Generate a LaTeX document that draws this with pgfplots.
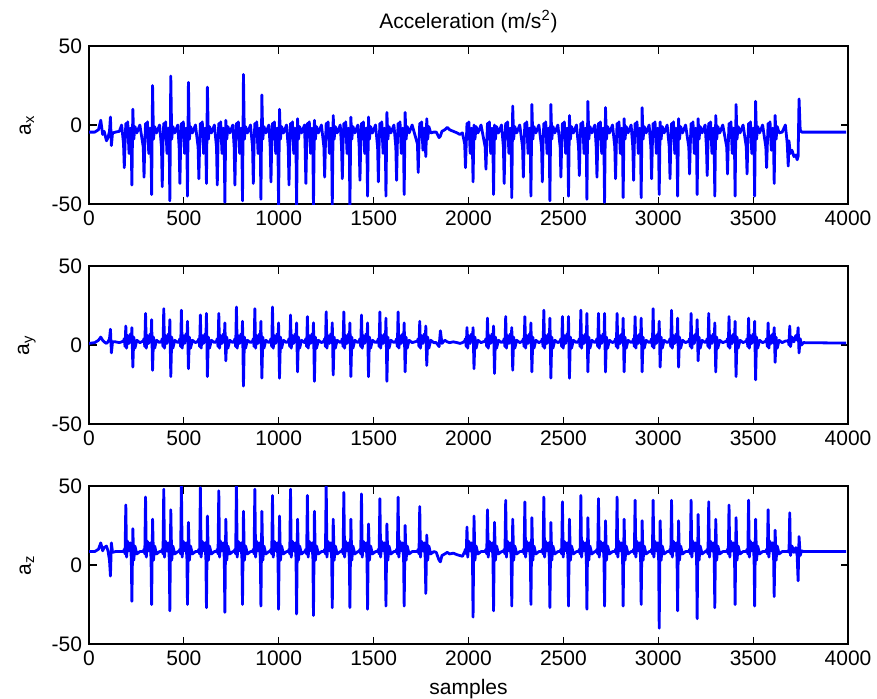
\documentclass[border=0pt]{standalone}
\usepackage{pgfplots}
\usepackage{pgfplotstable}
\pgfplotsset{compat=1.18}
\usepackage{fontspec}
\setmainfont{Liberation Sans}
\pgfplotstableread{
t ax ay az
0 -4.5 1.0 8.5
30 -4.5 1.5 8.5
50 -3 3 10
62 3 5 14
72 -6 3 9
80 -4 2 11
92 -10 1 12
100 -8 2 9
108 -4 4 3
113 5 10 -7
118 -13 -5 14
124 -5 2 8
140 -4.5 2 8.5
160 -4 1.5 8.5
172 0 2 8.5
182 -12 2.5 8.5
186 -27 4 10
190 -12 -1 7
194 1 12 38
198 -6 -2 5
204 2 6 15
211 -18 1 9
218 -2 7 14
223 -16 3 4
226 -38 11 -23
231 10 -14 23
236 -9 5 3
242 -1 -2 12
252 -5 3 7
268 0 1.5 8.5
286 -14 2.5 8.5
290 -33 4 10
294 -12 -1 7
298 1 20 43
302 -6 -2 5
308 2 6 15
315 -18 1 9
322 -2 7 14
327 -16 3 4
330 -44 16 -25
335 25 -16 29
340 -9 5 3
346 -1 -2 12
356 -5 3 7
372 0 1.5 8.5
382 -14 2.5 8.5
386 -39 4 10
390 -12 -1 7
394 1 23 48
398 -6 -2 5
404 2 6 15
411 -18 1 9
418 -2 7 14
423 -16 3 4
426 -48 16 -29
431 31 -20 35
436 -9 5 3
442 -1 -2 12
452 -5 3 7
468 0 1.5 8.5
475 -14 2.5 8.5
479 -37 4 10
483 -12 -1 7
487 1 22 52
491 -6 -2 5
497 2 6 15
504 -18 1 9
511 -2 7 14
516 -16 3 4
519 -45 15 -25
524 27 -15 27
529 -9 5 3
535 -1 -2 12
545 -5 3 7
561 0 1.5 8.5
575 -14 2.5 8.5
579 -34 4 10
583 -12 -1 7
587 1 19 49
591 -6 -2 5
597 2 6 15
604 -18 1 9
611 -2 7 14
616 -16 3 4
619 -37 20 -27
624 24 -20 31
629 -9 5 3
635 -1 -2 12
645 -5 3 7
661 0 1.5 8.5
672 -14 2.5 8.5
676 -38 4 10
680 -12 -1 7
684 1 20 47
688 -6 -2 5
694 2 6 15
701 -18 1 9
708 -2 7 14
713 -16 3 4
716 -49 14 -30
721 3 -10 29
726 -9 5 3
732 -1 -2 12
742 -5 3 7
758 0 1.5 8.5
765 -14 2.5 8.5
769 -38 4 10
773 -12 -1 7
777 1 24 52
781 -6 -2 5
787 2 6 15
794 -18 1 9
801 -2 7 14
806 -16 3 4
809 -48 15 -25
814 32 -26 34
819 -9 5 3
825 -1 -2 12
835 -5 3 7
851 0 1.5 8.5
862 -14 2.5 8.5
866 -37 4 10
870 -12 -1 7
874 1 23 48
878 -6 -2 5
884 2 6 15
891 -18 1 9
898 -2 7 14
903 -16 3 4
906 -47 15 -26
911 19 -21 34
916 -9 5 3
922 -1 -2 12
932 -5 3 7
948 0 1.5 8.5
955 -14 2.5 8.5
959 -36 4 10
963 -12 -1 7
967 1 24 44
971 -6 -2 5
977 2 6 15
984 -18 1 9
991 -2 7 14
996 -16 3 4
999 -52 14 -28
1004 10 -21 31
1009 -9 5 3
1015 -1 -2 12
1025 -5 3 7
1041 0 1.5 8.5
1050 -14 2.5 8.5
1054 -38 4 10
1058 -12 -1 7
1062 1 19 48
1066 -6 -2 5
1072 2 6 15
1079 -18 1 9
1086 -2 7 14
1091 -16 3 4
1094 -52 14 -31
1099 4 -17 29
1104 -9 5 3
1110 -1 -2 12
1120 -5 3 7
1136 0 1.5 8.5
1139 -14 2.5 8.5
1143 -37 4 10
1147 -12 -1 7
1151 1 18 44
1155 -6 -2 5
1161 2 6 15
1168 -18 1 9
1175 -2 7 14
1180 -16 3 4
1183 -52 14 -32
1188 3 -23 34
1193 -9 5 3
1199 -1 -2 12
1209 -5 3 7
1225 0 1.5 8.5
1238 -14 2.5 8.5
1242 -33 4 10
1246 -12 -1 7
1250 1 21 52
1254 -6 -2 5
1260 2 6 15
1267 -18 1 9
1274 -2 7 14
1279 -16 3 4
1282 -52 14 -27
1287 6 -19 29
1292 -9 5 3
1298 -1 -2 12
1308 -5 3 7
1324 0 1.5 8.5
1331 -14 2.5 8.5
1335 -34 4 10
1339 -12 -1 7
1343 1 21 46
1347 -6 -2 5
1353 2 6 15
1360 -18 1 9
1367 -2 7 14
1372 -16 3 4
1375 -52 14 -27
1380 5 -20 29
1385 -9 5 3
1391 -1 -2 12
1401 -5 3 7
1417 0 1.5 8.5
1424 -14 2.5 8.5
1428 -35 4 10
1432 -12 -1 7
1436 1 19 45
1440 -6 -2 5
1446 2 6 15
1453 -18 1 9
1460 -2 7 14
1465 -16 3 4
1468 -45 14 -28
1473 5 -20 26
1478 -9 5 3
1484 -1 -2 12
1494 -5 3 7
1510 0 1.5 8.5
1521 -14 2.5 8.5
1525 -36 4 10
1529 -12 -1 7
1533 1 21 42
1537 -6 -2 5
1543 2 6 15
1550 -18 1 9
1557 -2 7 14
1562 -16 3 4
1565 -45 17 -26
1570 8 -23 26
1575 -9 5 3
1581 -1 -2 12
1591 -5 3 7
1607 0 1.5 8.5
1617 -14 2.5 8.5
1621 -35 4 10
1625 -12 -1 7
1629 1 21 43
1633 -6 -2 5
1639 2 6 15
1646 -18 1 9
1653 -2 7 14
1658 -16 3 4
1661 -44 14 -26
1666 8 -17 25
1671 -9 5 3
1677 -1 -2 12
1687 -5 3 7
1703 0 1.5 8.5
1731 -12 2.5 8.5
1735 -30 4 10
1739 -12 -1 7
1743 1 15 37
1747 -6 -2 5
1753 2 6 15
1760 -16 1 9
1767 -2 7 14
1772 -12 3 4
1775 -20 12 -18
1780 4 -13 19
1785 -9 5 3
1791 -1 -2 12
1801 -5 3 7
1817 -4.5 1.5 8.5
1830 -4.5 1.5 8
1845 -8 -1 3
1852 -7 9 2
1860 -4 1 6
1875 -3 3 7
1888 -1.5 2 8
1900 -3 1.5 7
1920 -4 2 7.5
1940 -5 1.5 6.5
1955 -6 1 6
1968 -5 1.5 5.5
1980 -12 2.5 8.5
1984 -27 4 10
1988 -12 -1 7
1992 1 11 24
1996 -6 -2 5
2002 2 6 15
2009 -18 1 9
2016 -2 7 14
2021 -16 3 4
2024 -36 11 -33
2029 0 -15 31
2034 -9 5 3
2040 -1 -2 12
2050 -5 3 7
2066 0 1.5 8.5
2088 -14 2.5 8.5
2092 -28 4 10
2096 -12 -1 7
2100 1 17 35
2104 -6 -2 5
2110 2 6 15
2117 -18 1 9
2124 -2 7 14
2129 -16 3 4
2132 -44 12 -29
2137 0 -18 27
2142 -9 5 3
2148 -1 -2 12
2158 -5 3 7
2174 0 1.5 8.5
2184 -14 2.5 8.5
2188 -37 4 10
2192 -12 -1 7
2196 1 18 41
2200 -6 -2 5
2206 2 6 15
2213 -18 1 9
2220 -2 7 14
2225 -16 3 4
2228 -46 11 -26
2233 12 -16 29
2238 -9 5 3
2244 -1 -2 12
2254 -5 3 7
2270 0 1.5 8.5
2285 -14 2.5 8.5
2289 -33 4 10
2293 -12 -1 7
2297 1 18 40
2301 -6 -2 5
2307 2 6 15
2314 -18 1 9
2321 -2 7 14
2326 -16 3 4
2329 -45 14 -25
2334 13 -17 30
2339 -9 5 3
2345 -1 -2 12
2355 -5 3 7
2371 0 1.5 8.5
2385 -14 2.5 8.5
2389 -36 4 10
2393 -12 -1 7
2397 1 22 43
2401 -6 -2 5
2407 2 6 15
2414 -18 1 9
2421 -2 7 14
2426 -16 3 4
2429 -48 17 -27
2434 13 -21 27
2439 -9 5 3
2445 -1 -2 12
2455 -5 3 7
2471 0 1.5 8.5
2483 -14 2.5 8.5
2487 -33 4 10
2491 -12 -1 7
2495 1 18 40
2499 -6 -2 5
2505 2 6 15
2512 -18 1 9
2519 -2 7 14
2524 -16 3 4
2527 -45 18 -26
2532 6 -21 29
2537 -9 5 3
2543 -1 -2 12
2553 -5 3 7
2569 0 1.5 8.5
2580 -14 2.5 8.5
2584 -32 4 10
2588 -12 -1 7
2592 1 22 44
2596 -6 -2 5
2602 2 6 15
2609 -18 1 9
2616 -2 7 14
2621 -16 3 4
2624 -47 20 -28
2629 15 -17 30
2634 -9 5 3
2640 -1 -2 12
2650 -5 3 7
2666 0 1.5 8.5
2673 -14 2.5 8.5
2677 -33 4 10
2681 -12 -1 7
2685 1 20 42
2689 -6 -2 5
2695 2 6 15
2702 -18 1 9
2709 -2 7 14
2714 -16 3 4
2717 -49 20 -26
2722 11 -17 28
2727 -9 5 3
2733 -1 -2 12
2743 -5 3 7
2759 0 1.5 8.5
2771 -14 2.5 8.5
2775 -34 4 10
2779 -12 -1 7
2783 1 20 43
2787 -6 -2 5
2793 2 6 15
2800 -18 1 9
2807 -2 7 14
2812 -16 3 4
2815 -46 17 -26
2820 4 -17 29
2825 -9 5 3
2831 -1 -2 12
2841 -5 3 7
2857 0 1.5 8.5
2866 -14 2.5 8.5
2870 -35 4 10
2874 -12 -1 7
2878 1 18 41
2882 -6 -2 5
2888 2 6 15
2895 -18 1 9
2902 -2 7 14
2907 -16 3 4
2910 -46 17 -25
2915 11 -17 28
2920 -9 5 3
2926 -1 -2 12
2936 -5 3 7
2952 0 1.5 8.5
2961 -14 2.5 8.5
2965 -34 4 10
2969 -12 -1 7
2973 1 23 41
2977 -6 -2 5
2983 2 6 15
2990 -18 1 9
2997 -2 7 14
3002 -16 3 4
3005 -44 15 -40
3010 2 -14 28
3015 -9 5 3
3021 -1 -2 12
3031 -5 3 7
3047 0 1.5 8.5
3058 -14 2.5 8.5
3062 -34 4 10
3066 -12 -1 7
3070 1 22 41
3074 -6 -2 5
3080 2 6 15
3087 -18 1 9
3094 -2 7 14
3099 -16 3 4
3102 -45 17 -29
3107 4 -14 28
3112 -9 5 3
3118 -1 -2 12
3128 -5 3 7
3144 0 1.5 8.5
3161 -14 2.5 8.5
3165 -31 4 10
3169 -12 -1 7
3173 1 20 41
3177 -6 -2 5
3183 2 6 15
3190 -18 1 9
3197 -2 7 14
3202 -16 3 4
3205 -44 16 -34
3210 4 -10 32
3215 -9 5 3
3221 -1 -2 12
3231 -5 3 7
3247 0 1.5 8.5
3254 -14 2.5 8.5
3258 -32 4 10
3262 -12 -1 7
3266 1 20 40
3270 -6 -2 5
3276 2 6 15
3283 -18 1 9
3290 -2 7 14
3295 -16 3 4
3298 -45 14 -27
3303 6 -17 29
3308 -9 5 3
3314 -1 -2 12
3324 -5 3 7
3340 0 1.5 8.5
3361 -14 2.5 8.5
3365 -31 4 10
3369 -12 -1 7
3373 1 18 38
3377 -6 -2 5
3383 2 6 15
3390 -18 1 9
3397 -2 7 14
3402 -16 3 4
3405 -45 15 -25
3410 13 -20 30
3415 -9 5 3
3421 -1 -2 12
3431 -5 3 7
3447 0 1.5 8.5
3464 -14 2.5 8.5
3468 -31 4 10
3472 -12 -1 7
3476 1 17 41
3480 -6 -2 5
3486 2 6 15
3493 -18 1 9
3500 -2 7 14
3505 -16 3 4
3508 -45 15 -26
3513 15 -22 29
3518 -9 5 3
3524 -1 -2 12
3534 -5 3 7
3550 0 1.5 8.5
3567 -14 2.5 8.5
3571 -27 4 10
3575 -12 -1 7
3579 1 14 35
3583 -6 -2 5
3589 2 6 15
3596 -16 1 9
3603 -2 7 14
3608 -14 3 4
3611 -37 11 -20
3616 6 -11 22
3621 -9 5 3
3627 -1 -2 12
3637 -5 3 7
3653 -4.5 1.5 8.5
3670 0 2.5 8.5
3680 -12 2.5 8.5
3685 -26 3 9
3689 -10 0 8
3693 -15 12 33
3697 -18 -1 6
3705 -16 5 12
3715 -20 2 8
3725 -19 6 11
3732 -22 3 6
3737 -20 11 -10
3742 16.5 -5 18
3748 -3 4 6
3755 -4.5 0 9
3765 -4.5 1.5 8.5
3990 -4.5 1.2 8.5
}\acc
\pgfplotsset{
  every axis/.append style={
    font=\fontsize{10.5}{12.6}\selectfont,
    scale only axis, width=379.5pt, height=79pt,
    xmin=0, xmax=4000, ymin=-50, ymax=50,
    xtick={0,500,...,4000}, ytick={-50,0,50},
    tick align=inside, major tick length=3.75pt,
    axis line style={line width=0.6pt},
    every tick/.style={black, line width=0.6pt},
    scaled x ticks=false,
    /pgf/number format/1000 sep={},
    /pgf/number format/assume math mode=true,
    ylabel style={at={(axis description cs:-0.082,0.5)}, anchor=center},
    title style={yshift=-3pt},
    anchor=north west,
  },
  accline/.style={color={rgb,255:red,0;green,0;blue,255}, line width=1.4pt, line join=round, no markers},
}
\begin{document}
\begin{tikzpicture}
\useasboundingbox (0,0) rectangle (438.5pt,349pt);
\begin{axis}[at={(44.5pt,326pt)}, ylabel={a\textsubscript{x}}, title={Acceleration (m/s\textsuperscript{2})}]
\addplot[accline] table[x=t,y=ax]{\acc};
\end{axis}
\begin{axis}[at={(44.5pt,216pt)}, ylabel={a\textsubscript{y}}]
\addplot[accline] table[x=t,y=ay]{\acc};
\end{axis}
\begin{axis}[at={(44.5pt,106pt)}, ylabel={a\textsubscript{z}}, xlabel={samples}]
\addplot[accline] table[x=t,y=az]{\acc};
\end{axis}
\end{tikzpicture}
\end{document}
